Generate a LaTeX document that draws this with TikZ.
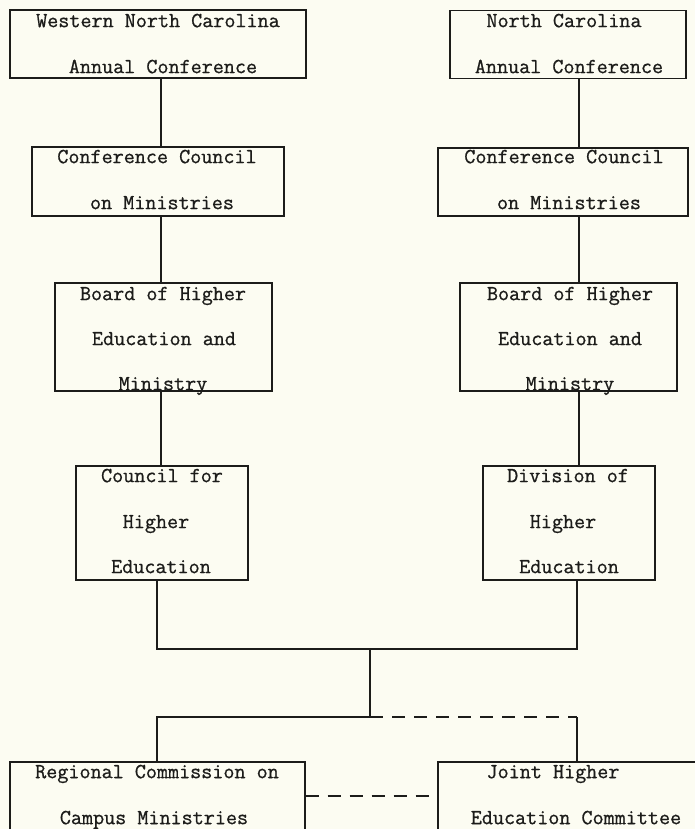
\documentclass[tikz,border=0pt]{standalone}
\usepackage{fontspec}
\newfontfamily\typewriter[FakeBold=0.8]{Latin Modern Mono}
\definecolor{ink}{HTML}{1C1C1A}
\definecolor{paper}{HTML}{FCFCF2}
\begin{document}
\begin{tikzpicture}[x=1pt,y=-1pt,
  box/.style={draw=ink, line width=1.3pt, inner sep=0pt},
  lbl/.style={font=\fontsize{21.5}{25}\selectfont\typewriter, text=ink, inner sep=0pt, anchor=mid, yshift=-3pt},
  link/.style={draw=ink, line width=1.3pt},
  dashlink/.style={link, dash pattern=on 13pt off 9pt}]
\useasboundingbox (0,0) rectangle (695,829);
\fill[paper] (0,0) rectangle (695,829);
\clip (0,0) rectangle (695,829);
% column x-positions of connectors
\coordinate (lx) at (161,0);
\coordinate (rx) at (579,0);
\coordinate (lx2) at (157,0);
\coordinate (rx2) at (577,0);
% boxes
\node[box, minimum width=296pt, minimum height=68pt] (a) at (158,44) {};
\node[box, minimum width=236pt, minimum height=68pt] (b) at (568,44.5) {};
\node[box, minimum width=252pt, minimum height=69pt] (c) at (158,181.5) {};
\node[box, minimum width=250pt, minimum height=68pt] (d) at (563,182) {};
\node[box, minimum width=217pt, minimum height=108pt] (e) at (163.5,337) {};
\node[box, minimum width=217pt, minimum height=108pt] (f) at (568.5,337) {};
\node[box, minimum width=172pt, minimum height=114pt] (g) at (162,523) {};
\node[box, minimum width=172pt, minimum height=114pt] (h) at (569,523) {};
\node[box, minimum width=295pt, minimum height=88pt] (i) at (157.5,806) {};
\node[box, minimum width=282pt, minimum height=88pt] (j) at (579,806) {};
% texts
\node[lbl] (a1) at (158,22) {Western North Carolina};
\node[lbl] (a2) at (163,68) {Annual Conference};
\node[lbl] (b1) at (564,22) {North Carolina};
\node[lbl] (b2) at (569,68) {Annual Conference};
\node[lbl] (c1) at (157,158) {Conference Council};
\node[lbl] (c2) at (162,204) {on Ministries};
\node[lbl] (d1) at (564,158) {Conference Council};
\node[lbl] (d2) at (569,204) {on Ministries};
\node[lbl] (e1) at (163,295) {Board of Higher};
\node[lbl] (e2) at (164,340) {Education and};
\node[lbl] (e3) at (163,385) {Ministry};
\node[lbl] (f1) at (570,295) {Board of Higher};
\node[lbl] (f2) at (570,340) {Education and};
\node[lbl] (f3) at (570,385) {Ministry};
\node[lbl] (g1) at (162,477) {Council for};
\node[lbl] (g2) at (156,523) {Higher};
\node[lbl] (g3) at (161,568) {Education};
\node[lbl] (h1) at (568,477) {Division of};
\node[lbl] (h2) at (563,523) {Higher};
\node[lbl] (h3) at (569,568) {Education};
\node[lbl] (i1) at (157,773) {Regional Commission on};
\node[lbl] (i2) at (154,819) {Campus Ministries};
\node[lbl] (j1) at (553,773) {Joint Higher};
\node[lbl] (j2) at (576,819) {Education Committee};
% connectors
\draw[link] (a.south -| lx) -- (c.north -| lx);
\draw[link] (c.south -| lx) -- (e.north -| lx);
\draw[link] (e.south -| lx) -- (g.north -| lx);
\draw[link] (b.south -| rx) -- (d.north -| rx);
\draw[link] (d.south -| rx) -- (f.north -| rx);
\draw[link] (f.south -| rx) -- (h.north -| rx);
\coordinate (m1) at (370,649);
\coordinate (m2) at (370,717);
\draw[link] (g.south -| lx2) |- (m1) -| (h.south -| rx2);
\draw[link] (m1) -- (m2);
\draw[link] (m2) -| (i.north -| lx2);
\draw[dashlink] (m2) -- (m2 -| rx2);
\draw[link] (m2 -| rx2) -- (j.north -| rx2);
\draw[dashlink] ([yshift=10pt]i.east) -- ([yshift=10pt]i.east -| j.west);
\end{tikzpicture}
\end{document}
